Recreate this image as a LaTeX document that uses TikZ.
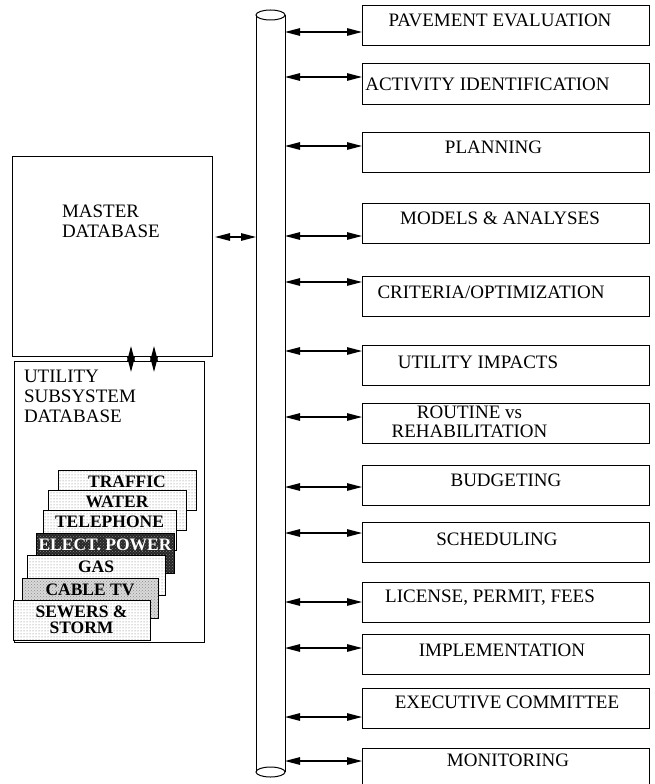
\documentclass[tikz,border=0pt]{standalone}
\usepackage{fontspec}
\setmainfont{Liberation Serif}
\usetikzlibrary{arrows.meta,patterns}

\begin{document}
\begin{tikzpicture}
[x=1pt, y=-1pt, every node/.style={inner sep=0pt, outer sep=0pt},
 procbox/.style={draw, line width=1pt, minimum width=287pt, minimum height=40pt},
 proclabel/.style={anchor=base, font=\fontsize{19}{17}\selectfont},
 dbbox/.style={draw, line width=1pt},
 dblabel/.style={anchor=north west, align=left, font=\fontsize{19}{20}\selectfont},
 card/.style={draw, line width=0.8pt, minimum height=40pt, preaction={fill=white}, pattern=dots, pattern color=black!55, font=\fontsize{17.5}{16}\selectfont\bfseries},
 cardtop/.style={text height=17pt, text depth=23pt},
 biarrow/.style={line width=1.2pt, {Triangle[length=15pt,width=7.5pt]}-{Triangle[length=15pt,width=7.5pt]}}]
\useasboundingbox (0,0) rectangle (654,784);

% data bus
\node (bus) [minimum width=29pt, minimum height=757pt] at (270.5,393.5) {};
\draw [line width=1pt] (bus.north west) -- (bus.south west) (bus.north east) -- (bus.south east);
\draw [line width=1pt] (bus.north) ellipse [x radius=14.5pt, y radius=5pt];
\draw [line width=1pt] (bus.south) ellipse [x radius=14.5pt, y radius=5pt];

% databases
\node (master) [dbbox, minimum width=200pt, minimum height=200pt] at (112,256) {};
\node (mastertxt) [dblabel] at (62,205) {MASTER\\DATABASE};
\node (util) [dbbox, minimum width=190pt, minimum height=281pt] at (109,501.5) {};
\node (utiltxt) [dblabel] at (24,370) {UTILITY\\SUBSYSTEM\\DATABASE};

% utility cards, back to front
\node (traffic) [card, cardtop, minimum width=138pt] at (127,490) {TRAFFIC};
\node (water) [card, cardtop, minimum width=138pt] at (117,510) {WATER};
\node (phone) [card, cardtop, minimum width=133pt] at (109.5,530) {TELEPHONE};
\node (power) [card, cardtop, minimum width=138pt, preaction={fill=black!85}, pattern=crosshatch dots, pattern color=white!50!black, text=white] at (105,553) {ELECT. POWER};
\node (gas) [card, cardtop, minimum width=138pt] at (96,575) {GAS};
\node (cable) [card, cardtop, minimum width=136pt, preaction={fill=gray!30}, pattern=crosshatch dots, pattern color=black!45] at (90,598) {CABLE TV};
\node (sewers) [card, minimum width=137pt, align=center] at (81.5,620) {SEWERS \&\\STORM};

% links
\coordinate (am) at ([yshift=19pt]master.east);
\draw [biarrow, shorten <=3pt] (am) -- (bus.west |- am);
\draw [biarrow] ([xshift=19pt, yshift=10pt]master.south) -- ([xshift=22pt, yshift=-11pt]util.north);
\draw [biarrow] ([xshift=42pt, yshift=10pt]master.south) -- ([xshift=45pt, yshift=-11pt]util.north);

% modules
\node (b1) [procbox] at (505.5,26) {};
\node (t1) [proclabel] at (500,27) {PAVEMENT EVALUATION};
\node (b2) [procbox] at (505.5,84) {};
\node (t2) [proclabel] at (487.5,90) {ACTIVITY IDENTIFICATION};
\node (b3) [procbox] at (505.5,152) {};
\node (t3) [proclabel] at (493.5,153) {PLANNING};
\node (b4) [procbox] at (505.5,223) {};
\node (t4) [proclabel] at (500,224) {MODELS \& ANALYSES};
\node (b5) [procbox] at (505.5,296.5) {};
\node (t5) [proclabel] at (491,298) {CRITERIA/OPTIMIZATION};
\node (b6) [procbox] at (505.5,365) {};
\node (t6) [proclabel] at (478,368) {UTILITY IMPACTS};
\node (b7) [procbox] at (505.5,423.5) {};
\node (t7) [proclabel, anchor=north, align=center, font=\fontsize{19}{19}\selectfont] at (469.5,406) {ROUTINE vs\\REHABILITATION};
\node (b8) [procbox] at (505.5,485) {};
\node (t8) [proclabel] at (506,486) {BUDGETING};
\node (b9) [procbox] at (505.5,542.5) {};
\node (t9) [proclabel] at (497,545) {SCHEDULING};
\node (b10) [procbox] at (505.5,602) {};
\node (t10) [proclabel] at (490,602) {LICENSE, PERMIT, FEES};
\node (b11) [procbox] at (505.5,654.5) {};
\node (t11) [proclabel] at (502,656) {IMPLEMENTATION};
\node (b12) [procbox] at (505.5,708.5) {};
\node (t12) [proclabel] at (507,708) {EXECUTIVE COMMITTEE};
\node (b13) [procbox] at (505.5,768) {};
\node (t13) [proclabel] at (508,766) {MONITORING};

% bus to module arrows
\coordinate (a1) at ([yshift=-6pt]b1.west);
\coordinate (a2) at ([yshift=7pt]b2.west);
\coordinate (a3) at ([yshift=6pt]b3.west);
\coordinate (a4) at ([yshift=-13pt]b4.west);
\coordinate (a5) at ([yshift=14.5pt]b5.west);
\coordinate (a6) at ([yshift=14pt]b6.west);
\coordinate (a7) at ([yshift=6.5pt]b7.west);
\coordinate (a8) at ([yshift=-2pt]b8.west);
\coordinate (a9) at ([yshift=9.5pt]b9.west);
\coordinate (a10) at (b10.west);
\coordinate (a11) at ([yshift=6.5pt]b11.west);
\coordinate (a12) at ([yshift=-8.5pt]b12.west);
\coordinate (a13) at ([yshift=7pt]b13.west);
\draw [biarrow] (bus.east |- a1) -- (a1);
\draw [biarrow] (bus.east |- a2) -- (a2);
\draw [biarrow] (bus.east |- a3) -- (a3);
\draw [biarrow] (bus.east |- a4) -- (a4);
\draw [biarrow] (bus.east |- a5) -- (a5);
\draw [biarrow] (bus.east |- a6) -- (a6);
\draw [biarrow] (bus.east |- a7) -- (a7);
\draw [biarrow] (bus.east |- a8) -- (a8);
\draw [biarrow] (bus.east |- a9) -- (a9);
\draw [biarrow] (bus.east |- a10) -- (a10);
\draw [biarrow] (bus.east |- a11) -- (a11);
\draw [biarrow] (bus.east |- a12) -- (a12);
\draw [biarrow] (bus.east |- a13) -- (a13);
\end{tikzpicture}
\end{document}
